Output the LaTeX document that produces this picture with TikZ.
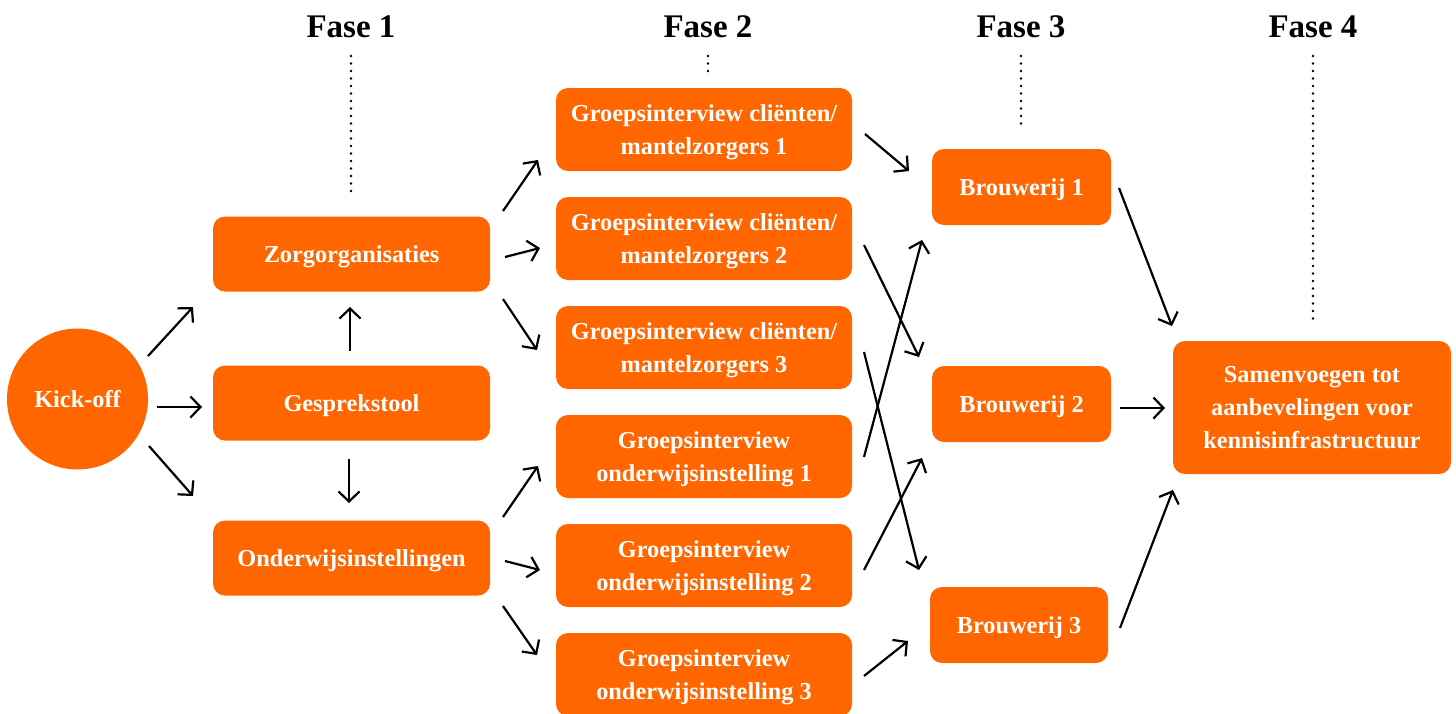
\documentclass[tikz,border=0pt]{standalone}
\usepackage{fontspec}
\setmainfont{Liberation Serif}
\usetikzlibrary{arrows.meta}
\definecolor{orng}{HTML}{FF6600}
\begin{document}
\begin{tikzpicture}[x=1pt,y=-1pt,
  box/.style={fill=orng, rounded corners=12pt, text=white, font=\bfseries\fontsize{24.3}{33}\selectfont, align=center, inner sep=0pt, text depth=0pt, text height=16pt},
  two/.style={text height=49pt},
  three/.style={text height=82pt},
  arr/.style={-{Straight Barb[length=10pt,width=21pt]}, line width=2.2pt},
  phase/.style={font=\bfseries\fontsize{33}{36}\selectfont, inner sep=0pt},
  dotline/.style={line width=2.6pt, dash pattern=on 0pt off 7.5pt, line cap=round}]
\useasboundingbox (0,0) rectangle (1456,713);

% phase headers
\node[phase] (f1) at (351,27) {Fase 1};
\node[phase] (f2) at (708,27) {Fase 2};
\node[phase] (f3) at (1021,27) {Fase 3};
\node[phase] (f4) at (1313,27) {Fase 4};
\coordinate (d1a) at (351,56); \coordinate (d1b) at (351,196);
\coordinate (d2a) at (708,56); \coordinate (d2b) at (708,72);
\coordinate (d3a) at (1021,56); \coordinate (d3b) at (1021,129);
\coordinate (d4a) at (1313,56); \coordinate (d4b) at (1313,322);
\draw[dotline] (d1a) -- (d1b);
\draw[dotline] (d2a) -- (d2b);
\draw[dotline] (d3a) -- (d3b);
\draw[dotline] (d4a) -- (d4b);

% nodes
\node[circle, fill=orng, minimum size=141pt, inner sep=0pt, text=white, font=\bfseries\fontsize{24.3}{33}\selectfont, text depth=0pt, text height=16pt] (kick) at (77.5,399) {Kick-off};
\node[box, minimum width=277pt, minimum height=75pt] (zorg) at (351.5,254) {Zorgorganisaties};
\node[box, minimum width=277pt, minimum height=75pt] (gesp) at (351.5,403) {Gesprekstool};
\node[box, minimum width=277pt, minimum height=75pt] (onder) at (351.5,558) {Onderwijsinstellingen};

\node[box, two, minimum width=296pt, minimum height=83pt] (g1) at (704,129.5) {Groepsinterview cliënten/\\mantelzorgers 1};
\node[box, two, minimum width=296pt, minimum height=83pt] (g2) at (704,238.5) {Groepsinterview cliënten/\\mantelzorgers 2};
\node[box, two, minimum width=296pt, minimum height=83pt] (g3) at (704,347.5) {Groepsinterview cliënten/\\mantelzorgers 3};
\node[box, two, minimum width=296pt, minimum height=83pt] (g4) at (704,456.5) {Groepsinterview\\onderwijsinstelling 1};
\node[box, two, minimum width=296pt, minimum height=83pt] (g5) at (704,565.5) {Groepsinterview\\onderwijsinstelling 2};
\node[box, two, minimum width=296pt, minimum height=83pt] (g6) at (704,674.5) {Groepsinterview\\onderwijsinstelling 3};

\node[box, minimum width=179pt, minimum height=76pt] (b1) at (1021.5,187) {Brouwerij 1};
\node[box, minimum width=179pt, minimum height=76pt] (b2) at (1021.5,404) {Brouwerij 2};
\node[box, minimum width=178pt, minimum height=76pt] (b3) at (1019,625) {Brouwerij 3};

\node[box, three, minimum width=278pt, minimum height=133pt] (sam) at (1312,407.5) {Samenvoegen tot\\aanbevelingen voor\\kennisinfrastructuur};

% arrow endpoints
\coordinate (k1s) at (148,356); \coordinate (k1e) at (193,307);
\coordinate (k2s) at (157,407); \coordinate (k2e) at (202,407);
\coordinate (k3s) at (149,446); \coordinate (k3e) at (193,496);
\coordinate (gus) at (350,351); \coordinate (gue) at (350,307);
\coordinate (gds) at (349,459); \coordinate (gde) at (349,503);
\coordinate (z1s) at (503,211); \coordinate (z1e) at (538,160);
\coordinate (z2s) at (505,257); \coordinate (z2e) at (540,248);
\coordinate (z3s) at (503,299); \coordinate (z3e) at (537,350);
\coordinate (o1s) at (503,517); \coordinate (o1e) at (538,466);
\coordinate (o2s) at (505,561); \coordinate (o2e) at (540,570);
\coordinate (o3s) at (503,606); \coordinate (o3e) at (537,655);
\coordinate (p1s) at (865,134); \coordinate (p1e) at (909,171);
\coordinate (p2s) at (864,245); \coordinate (p2e) at (919,357);
\coordinate (p3s) at (864,352); \coordinate (p3e) at (919,570);
\coordinate (p4s) at (864,457); \coordinate (p4e) at (922,240);
\coordinate (p5s) at (864,570); \coordinate (p5e) at (922,458);
\coordinate (p6s) at (864,676); \coordinate (p6e) at (908,641);
\coordinate (q1s) at (1119,188); \coordinate (q1e) at (1172,326);
\coordinate (q2s) at (1120,408); \coordinate (q2e) at (1165,408);
\coordinate (q3s) at (1120,628); \coordinate (q3e) at (1173,490);

\foreach \a in {k1,k2,k3,gu,gd,z1,z2,z3,o1,o2,o3,p1,p2,p3,p4,p5,p6,q1,q2,q3}
  \draw[arr] (\a s) -- (\a e);
\end{tikzpicture}
\end{document}
